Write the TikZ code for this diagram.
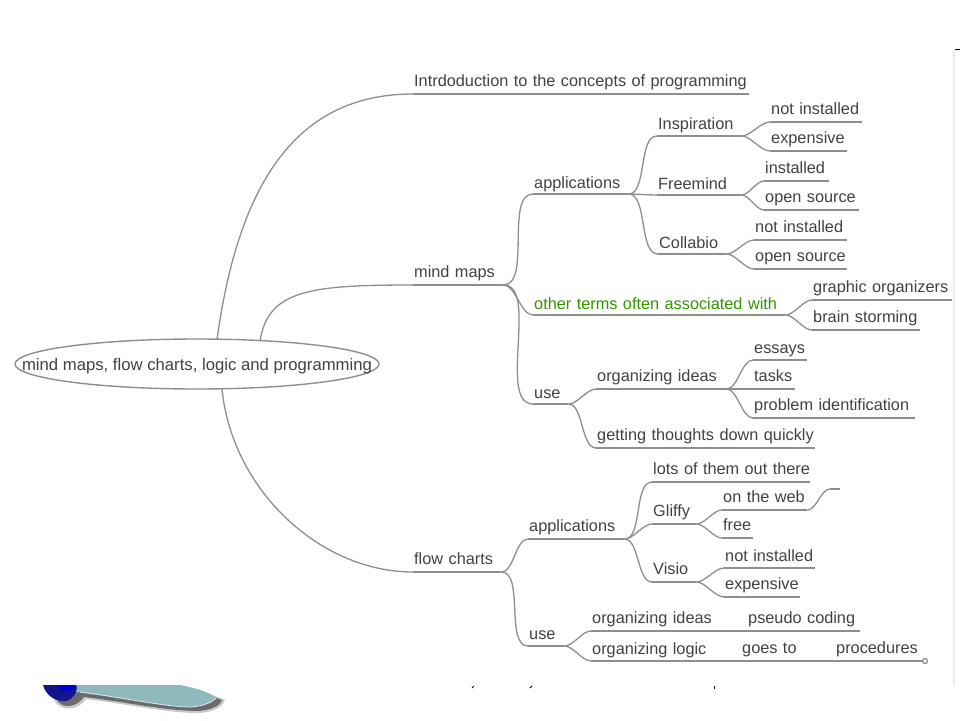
\documentclass[tikz,border=0pt]{standalone}
\usepackage{fontspec}
\setmainfont{Liberation Sans}
\usetikzlibrary{shapes.geometric}
\definecolor{inkgrey}{RGB}{66,66,70}
\definecolor{linegrey}{RGB}{142,142,142}
\definecolor{leafgreen}{RGB}{50,150,0}
\definecolor{bladeteal}{RGB}{143,184,189}
\definecolor{bowlblue}{RGB}{20,20,140}
\tikzset{
  branch/.style={draw=linegrey, line width=1.3pt},
  topic/.style={anchor=south west, inner xsep=1pt, inner ysep=3.5pt, align=left,
    text=inkgrey, font=\fontsize{16.3}{18}\selectfont, text height=12pt, text depth=3.5pt,
    append after command={(\tikzlastnode.south west) edge[branch] (\tikzlastnode.south east)}},
  low/.style={inner ysep=1.5pt},
  mid/.style={inner ysep=2.5pt},
  link/.style={branch, out=0, in=180, looseness=0.75}
}

\begin{document}
\begin{tikzpicture}[x=1pt,y=-1pt]
\useasboundingbox (0,0) rectangle (960,720);
\fill [white] (0,0) rectangle (960,720);

% central ellipse
\node [ellipse, draw=linegrey, line width=1.4pt, minimum width=364pt, minimum height=50pt, inner xsep=-60pt, inner ysep=0pt,
  text=inkgrey, font=\fontsize{16.7}{18}\selectfont, text height=17pt, text depth=3.5pt] (root) at (197,364) {mind maps, flow charts, logic and programming};
\coordinate (rootA) at (217,340);
\coordinate (rootB) at (260,341);
\coordinate (rootC) at (222,389);

% first level
\node [topic, text width=334pt] (intro) at (413,94) {Intrdoduction to the concepts of programming};
\node [topic, text width=88pt] (mm) at (413,285) {mind maps};
\node [topic, text width=86pt] (fc) at (413,572) {flow charts};

% mind maps
\node [topic, low, text width=93pt] (mmapp) at (533,194) {applications};
\node [topic, mid, text width=82pt] (insp) at (657,136) {Inspiration};
\node [topic, text width=90pt] (inspa) at (770,122) {not installed};
\node [topic, text width=75pt] (inspb) at (770,151) {expensive};
\node [topic, low, text width=82pt] (free) at (657,195) {Freemind};
\node [topic, text width=63pt] (freea) at (764,181) {installed};
\node [topic, text width=93pt] (freeb) at (764,210) {open source};
\node [topic, low, text width=66pt] (coll) at (658,254) {Collabio};
\node [topic, text width=91pt] (colla) at (754,240) {not installed};
\node [topic, text width=91pt] (collb) at (754,269) {open source};
\node [topic, low, text width=250pt, text=leafgreen] (other) at (533,315) {other terms often associated with};
\node [topic, text width=138pt] (othera) at (812,300) {\mbox{graphic organizers}};
\node [topic, text width=106pt] (otherb) at (812,330) {brain storming};
\node [topic, low, text width=33pt] (mmuse) at (533,404) {use};
\node [topic, text width=128pt] (ideas) at (596,389) {organizing ideas};
\node [topic, mid, text width=52pt] (ideasa) at (753,360) {essays};
\node [topic, text width=40pt] (ideasb) at (753,389) {tasks};
\node [topic, text width=160pt] (ideasc) at (753,418) {problem identification};
\node [topic, text width=217pt] (quick) at (596,448) {\mbox{getting thoughts down quickly}};

% flow charts
\node [topic, text width=94pt] (fcapp) at (528,539) {applications};
\node [topic, text width=156pt] (lots) at (652,482) {\mbox{lots of them out there}};
\node [topic, text width=42pt] (gliffy) at (652,524) {Gliffy};
\node [topic, text width=83pt] (web) at (722,510) {on the web};
\node [topic, text width=29pt] (gfree) at (722,538) {free};
\node [topic, text width=42pt] (visio) at (652,582) {Visio};
\node [topic, mid, text width=89pt] (visa) at (724,568) {not installed};
\node [topic, text width=74pt] (visb) at (724,597) {expensive};
\node [topic, mid, text width=34pt] (fcuse) at (528,646) {use};
\node [topic, text width=124pt] (orgi) at (591,631) {organizing ideas};
\node [topic, text width=111pt] (pseudo) at (747,631) {pseudo coding};
\node [topic, mid, text width=122pt] (orgl) at (591,661) {organizing logic};
\node [topic, text width=63pt] (goes) at (741,661) {goes to};
\node [topic, text width=83pt] (proc) at (835,661) {procedures};

% free ends
\coordinate (stubA) at (830,489);
\coordinate (stubB) at (840,489);
\node [circle, draw=linegrey, line width=1.3pt, fill=white, inner sep=0pt, minimum size=5pt] (tail) at (925,661) {};

% connectors from the root
\draw [branch] (rootA) .. controls (240,170) and (305,94) .. (intro.south west);
\draw [branch] (rootB) .. controls (268,290) and (310,285) .. (mm.south west);
\draw [branch] (rootC) .. controls (232,490) and (320,572) .. (fc.south west);

% connectors of mind maps
\draw [link] (mm.south east) to (mmapp.south west);
\draw [link] (mm.south east) to (other.south west);
\draw [link] (mm.south east) to (mmuse.south west);
\draw [link] (mmapp.south east) to (insp.south west);
\draw [link] (mmapp.south east) to (free.south west);
\draw [link] (mmapp.south east) to (coll.south west);
\draw [link] (insp.south east) to (inspa.south west);
\draw [link] (insp.south east) to (inspb.south west);
\draw [link] (free.south east) to (freea.south west);
\draw [link] (free.south east) to (freeb.south west);
\draw [link] (coll.south east) to (colla.south west);
\draw [link] (coll.south east) to (collb.south west);
\draw [link] (other.south east) to (othera.south west);
\draw [link] (other.south east) to (otherb.south west);
\draw [link] (mmuse.south east) to (ideas.south west);
\draw [link] (mmuse.south east) to (quick.south west);
\draw [link] (ideas.south east) to (ideasa.south west);
\draw [link] (ideas.south east) to (ideasb.south west);
\draw [link] (ideas.south east) to (ideasc.south west);

% connectors of flow charts
\draw [link] (fc.south east) to (fcapp.south west);
\draw [link] (fc.south east) to (fcuse.south west);
\draw [link] (fcapp.south east) to (lots.south west);
\draw [link] (fcapp.south east) to (gliffy.south west);
\draw [link] (fcapp.south east) to (visio.south west);
\draw [link] (gliffy.south east) to (web.south west);
\draw [link] (gliffy.south east) to (gfree.south west);
\draw [link] (web.south east) to (stubA);
\draw [branch] (stubA) -- (stubB);
\draw [link] (visio.south east) to (visa.south west);
\draw [link] (visio.south east) to (visb.south west);
\draw [link] (fcuse.south east) to (orgi.south west);
\draw [link] (fcuse.south east) to (orgl.south west);
\draw [branch] (orgi.south east) -- (pseudo.south west);
\draw [branch] (orgl.south east) -- (goes.south west);
\draw [branch] (goes.south east) -- (proc.south west);
\draw [branch] (proc.south east) -- (tail);

% slide edge on the right
\draw [black!8, line width=1.5pt] (954,50) -- (954,685);
\draw [black, line width=1pt] (955,49) -- (960,49);

% cut off letters at the bottom
\draw [black, line width=1pt] (474,686) -- (472,688);
\draw [black, line width=1pt] (532,686) -- (530,688);
\draw [black, line width=1pt] (714,685.5) -- (714,688.5);

% pointer at the bottom left
\begin{scope}
\clip (0,685) rectangle (300,720);
\fill [black!60, opacity=0.35] (54,700) .. controls (60,712) and (78,711) .. (86,699) .. controls (120,703) and (160,712) .. (195,713) .. controls (212,713) and (222,708) .. (225,700) -- (200,690) -- (70,688) -- cycle;
\fill [black!70, opacity=0.75] (57,700) .. controls (62,709) and (76,708) .. (84,697) .. controls (120,701) and (160,710) .. (195,711) .. controls (210,711) and (220,706) .. (222,700) -- (200,692) -- (70,690) -- cycle;
\fill [bowlblue] (43,685) .. controls (46,696) and (56,702) .. (66,701) .. controls (72,700) and (76,694) .. (79,685) -- cycle;
\fill [blue!80!black] (57,686) .. controls (62,693) and (70,693) .. (75,687) -- (75,685) -- (57,685) -- cycle;
\fill [bladeteal] (76,685) -- (180,685) .. controls (195,688) and (210,692) .. (216,698) .. controls (212,703) and (200,707) .. (188,707) .. controls (160,706) and (120,697) .. (76,692) .. controls (76,690) and (78,688) .. (76,685) -- cycle;
\draw [white!70!bladeteal, line width=0.8pt] (80,692) .. controls (120,697) and (160,706) .. (188,707) .. controls (200,707) and (212,703) .. (216,698);
\end{scope}

\end{tikzpicture}
\end{document}
